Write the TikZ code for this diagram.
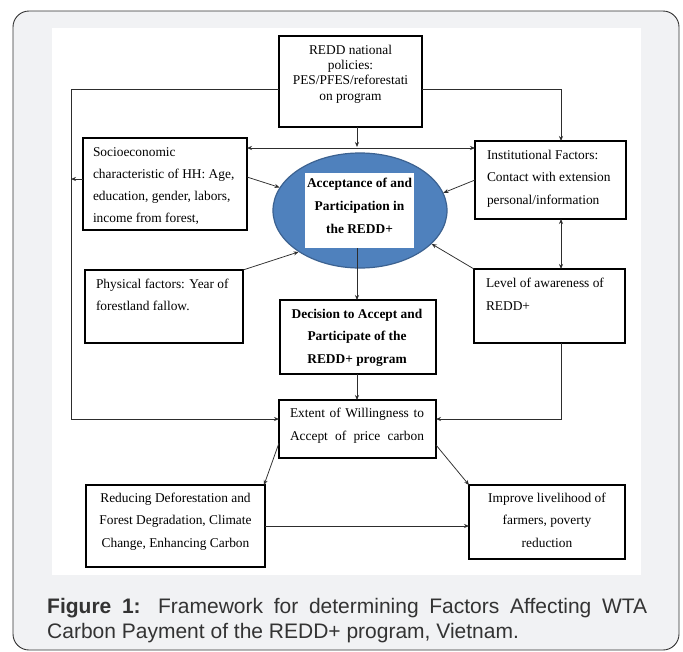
\documentclass[tikz,border=0pt]{standalone}
\usepackage{fontspec}
\setmainfont{Liberation Serif}
\newfontfamily\capfont{Liberation Sans}
\usetikzlibrary{arrows.meta,shapes.geometric}
\definecolor{framefill}{RGB}{241,242,244}
\definecolor{ellfill}{RGB}{79,129,189}
\definecolor{elldraw}{RGB}{60,98,145}
\definecolor{linecol}{RGB}{45,45,45}
\definecolor{captext}{RGB}{51,51,51}
\begin{document}
\begin{tikzpicture}[x=1pt,y=-1pt,
  box/.style={draw=black, line width=2.2pt, inner sep=0pt, outer sep=0pt},
  conn/.style={draw=linecol, line width=0.75pt, -{Stealth[length=5pt,width=4pt]}},
  dconn/.style={draw=linecol, line width=0.75pt, {Stealth[length=5pt,width=4pt]}-{Stealth[length=5pt,width=4pt]}},
  txt/.style={inner sep=0pt, outer sep=0pt, font=\fontsize{13.4}{22.5}\selectfont},
]
\useasboundingbox (0,0) rectangle (683,651);
% frame and white panel
\draw[rounded corners=16pt, fill=framefill, draw=black!80, line width=0.9pt] (13,11) rectangle (679,650);
\fill[white] (52,28) rectangle (641,575);

% boxes
\node[box, minimum width=143pt, minimum height=91pt] (redd) at (350.5,81.5) {};
\node[box, minimum width=164pt, minimum height=92pt] (socio) at (165,184) {};
\node[box, minimum width=151pt, minimum height=78pt] (inst) at (550.5,180) {};
\node[box, minimum width=158pt, minimum height=73pt] (phys) at (164,306.5) {};
\node[box, minimum width=151pt, minimum height=74pt] (level) at (549.5,306) {};
\node[box, minimum width=156pt, minimum height=74pt] (dec) at (358,337) {};
\node[box, minimum width=157pt, minimum height=58pt] (ext) at (357.5,429) {};
\node[box, minimum width=179pt, minimum height=82pt] (red) at (175.5,526) {};
\node[box, minimum width=156pt, minimum height=74pt] (imp) at (547,522) {};
\node[ellipse, draw=elldraw, fill=ellfill, line width=1.2pt, minimum width=174pt, minimum height=115pt, inner sep=0pt] (ell) at (360,210.5) {};
\node[fill=white, minimum width=109pt, minimum height=75pt, inner sep=0pt] (inner) at (359.5,210.5) {};

% texts (anchor base = baseline of last line)
\node[txt, align=center, anchor=base, font=\fontsize{13.4}{15.3}\selectfont] (tredd) at (350.5,100) {REDD national\\policies:\\PES/PFES/reforestati\\on program};
\node[txt, align=left, anchor=base west, font=\fontsize{13.4}{22}\selectfont] (tsocio) at (93,222) {Socioeconomic\\characteristic of HH: Age,\\education, gender, labors,\\income from forest,};
\node[txt, align=left, anchor=base west] (tinst) at (487,204) {Institutional Factors:\\Contact with extension\\personal/information};
\node[txt, align=left, anchor=base west] (tphys) at (96,310.5) {Physical factors: Year of\\forestland fallow.};
\node[txt, align=left, anchor=base west] (tlevel) at (486,310) {Level of awareness of\\REDD+};
\node[txt, align=center, anchor=base, font=\fontsize{13.4}{23}\selectfont\bfseries] (tell) at (359.5,233) {Acceptance of and\\Participation in\\the REDD+};
\node[txt, align=center, anchor=base, font=\fontsize{13.4}{22.5}\selectfont\bfseries] (tdec) at (357,363) {Decision to Accept and\\Participate of the\\REDD+ program};
\node[txt, anchor=base, font=\fontsize{13.4}{23}\selectfont] (text) at (357,417) {\parbox[t]{134pt}{\parfillskip=0pt Extent of Willingness to\linebreak Accept of price carbon}};
\node[txt, align=center, anchor=base] (tred) at (175.5,547) {Reducing Deforestation and\\Forest Degradation, Climate\\Change, Enhancing Carbon};
\node[txt, align=center, anchor=base] (timp) at (547,547) {Improve livelihood of\\farmers, poverty\\reduction};

% caption
\node[anchor=base west, inner sep=0pt, text=captext, font=\capfont\fontsize{21}{25}\selectfont] (cap) at (47,613) {\parbox[t]{600pt}{\textbf{Figure 1:} Framework for determining Factors Affecting WTA\linebreak Carbon Payment of the REDD+ program, Vietnam.}};

% helper coordinates
\coordinate (L1) at (71,89);
\coordinate (L2) at (71,419);
\coordinate (R1) at (561,89);
\coordinate (R2) at (561,419);
\coordinate (H) at (0,148);
\coordinate (V) at (357,147);

% connectors
\draw[conn] (redd.west |- L1) -- (L1) -- (L2) -- (ext.west |- L2);
\draw[conn] (redd.east |- R1) -- (R1) -- (R1 |- inst.north);
\draw[conn] (V |- redd.south) -- (V);
\draw[dconn] (socio.east |- H) -- (inst.west |- H);
\draw[conn] ([yshift=5pt]socio.west) -- ([yshift=5pt]socio.west -| L1);
\draw[conn] ([yshift=7pt]socio.east) -- (ell.164);
\draw[conn] (phys.north east) -- (ell.214);
\draw[conn] (inst.west) -- (ell.12);
\draw[conn] (level.north west) -- (ell.335);
\draw[conn] (V |- inner.south) -- (V |- dec.north);
\draw[dconn] (R1 |- inst.south) -- (R1 |- level.north);
\draw[conn] (R1 |- level.south) -- (R2) -- (ext.east |- R2);
\draw[conn] (V |- dec.south) -- (V |- ext.north);
\draw[conn] ([yshift=-14pt]ext.west) -- ([xshift=-1pt]red.north east);
\draw[conn] ([yshift=-16pt]ext.east) -- (imp.north west);
\draw[conn] (red.east) -- (red.east -| imp.west);
\end{tikzpicture}
\end{document}
